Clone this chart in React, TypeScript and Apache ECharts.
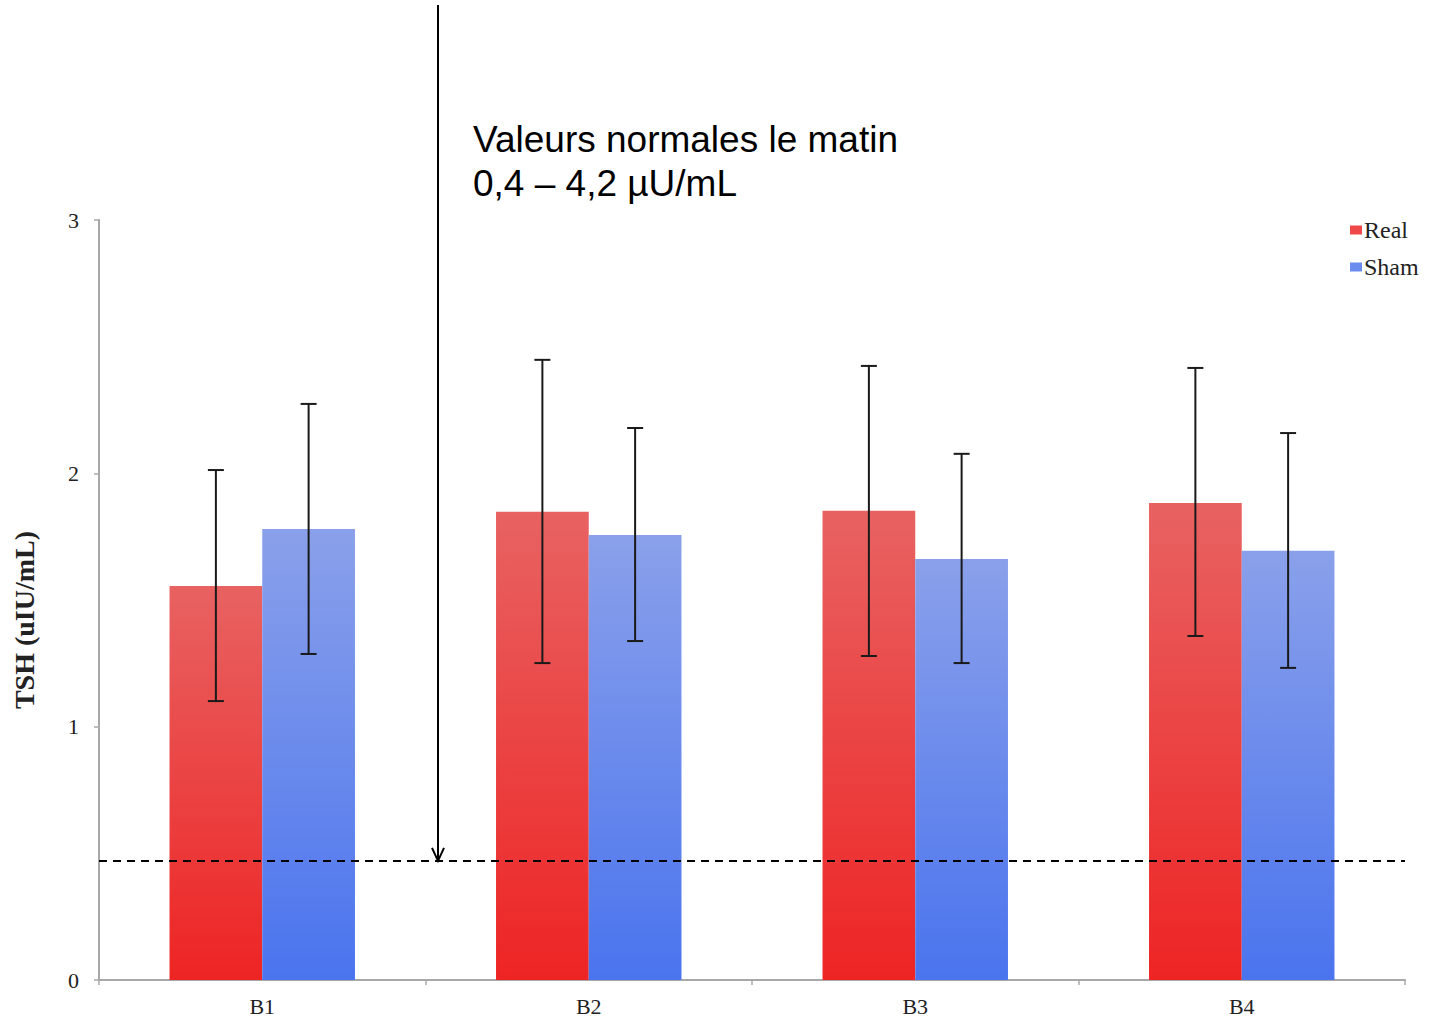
import React, { useEffect, useRef } from "react";
import * as echarts from "echarts";

const categories = ["B1", "B2", "B3", "B4"];
const realValues = [1.555, 1.848, 1.852, 1.883];
const shamValues = [1.78, 1.757, 1.662, 1.694];
const realErrHigh = [2.013, 2.448, 2.424, 2.416];
const realErrLow = [1.101, 1.251, 1.279, 1.358];
const shamErrHigh = [2.274, 2.179, 2.077, 2.159];
const shamErrLow = [1.287, 1.338, 1.251, 1.232];
const normalLevel = 0.47;
const yTicks = [0, 1, 2, 3];
const annotationLines = ["Valeurs normales le matin", "0,4 – 4,2 µU/mL"];

const SERIF = "'Liberation Serif', 'Times New Roman', serif";
const SANS = "'Liberation Sans', Arial, sans-serif";

function errRender(offsetFactor: number) {
  return (params: any, api: any) => {
    const xi = api.value(0);
    const hi = api.value(1);
    const lo = api.value(2);
    const band = api.size([1, 0])[0];
    const top = api.coord([xi, hi]);
    const bot = api.coord([xi, lo]);
    const x = top[0] + offsetFactor * band;
    const half = 8;
    const st = { stroke: "#1a1a1a", lineWidth: 2 };
    return {
      type: "group",
      children: [
        { type: "line", shape: { x1: x, y1: top[1], x2: x, y2: bot[1] }, style: st },
        { type: "line", shape: { x1: x - half, y1: top[1], x2: x + half, y2: top[1] }, style: st },
        { type: "line", shape: { x1: x - half, y1: bot[1], x2: x + half, y2: bot[1] }, style: st },
      ],
    };
  };
}

export default function App() {
  const ref = useRef<HTMLDivElement>(null);
  useEffect(() => {
    if (!ref.current) return;
    const chart = echarts.init(ref.current, null, { renderer: "svg" });
    const redGrad = new echarts.graphic.LinearGradient(0, 0, 0, 1, [
      { offset: 0, color: "#e86262" },
      { offset: 1, color: "#ee2424" },
    ]);
    const blueGrad = new echarts.graphic.LinearGradient(0, 0, 0, 1, [
      { offset: 0, color: "#8aa0ea" },
      { offset: 1, color: "#4a74ee" },
    ]);
    const option: any = {
      animation: false,
      backgroundColor: "#ffffff",
      grid: { left: 99, right: 27, top: 220, bottom: 37, containLabel: false },
      legend: {
        data: [
          { name: "Real", itemStyle: { color: "#ee4848" } },
          { name: "Sham", itemStyle: { color: "#6a8cee" } },
        ],
        orient: "vertical",
        left: 1345,
        top: 213,
        icon: "rect",
        itemWidth: 12,
        itemHeight: 9,
        itemGap: 13,
        textStyle: { fontFamily: SERIF, fontSize: 24, color: "#222", padding: [0, 0, 0, -3] },
      },
      xAxis: {
        type: "category",
        data: categories,
        axisLine: { lineStyle: { color: "#a8a8a8", width: 2 } },
        axisTick: { show: true, length: 5, lineStyle: { color: "#a8a8a8", width: 1.5 } },
        axisLabel: { fontFamily: SERIF, fontSize: 22, color: "#222", margin: 15 },
      },
      yAxis: {
        type: "value",
        min: yTicks[0],
        max: yTicks[yTicks.length - 1],
        interval: 1,
        splitLine: { show: false },
        axisLine: { show: true, lineStyle: { color: "#a8a8a8", width: 2 } },
        axisTick: { show: true, length: 5, lineStyle: { color: "#a8a8a8", width: 1.5 } },
        axisLabel: { fontFamily: SERIF, fontSize: 22, color: "#222", margin: 20 },
      },
      series: [
        {
          name: "Real",
          type: "bar",
          data: realValues,
          barWidth: "28.4%",
          barGap: "0%",
          itemStyle: { color: redGrad },
          markLine: {
            silent: true,
            symbol: "none",
            label: { show: false },
            lineStyle: { color: "#000", width: 2, type: [8, 6] },
            data: [{ yAxis: normalLevel }],
            z: 10,
          },
        },
        {
          name: "Sham",
          type: "bar",
          data: shamValues,
          barWidth: "28.4%",
          barGap: "0%",
          itemStyle: { color: blueGrad },
        },
        {
          name: "RealErr",
          type: "custom",
          data: categories.map((_, i) => [i, realErrHigh[i], realErrLow[i]]),
          renderItem: errRender(-0.142),
          z: 5,
          silent: true,
        },
        {
          name: "ShamErr",
          type: "custom",
          data: categories.map((_, i) => [i, shamErrHigh[i], shamErrLow[i]]),
          renderItem: errRender(0.142),
          z: 5,
          silent: true,
        },
      ],
    };
    chart.setOption(option);
    const yDash = chart.convertToPixel({ yAxisIndex: 0 }, normalLevel) as number;
    const ax = 438;
    chart.setOption({
      graphic: [
        {
          type: "line",
          shape: { x1: ax, y1: 5, x2: ax, y2: yDash },
          style: { stroke: "#000", lineWidth: 2 },
          z: 20,
        },
        {
          type: "polyline",
          shape: { points: [[ax - 6, yDash - 13], [ax, yDash], [ax + 6, yDash - 13]] },
          style: { stroke: "#000", lineWidth: 2, fill: null },
          z: 20,
        },
        {
          type: "text",
          left: 473,
          top: 117,
          style: {
            text: annotationLines.join("\n"),
            font: `37px ${SANS}`,
            fill: "#000",
            lineHeight: 44,
          },
          z: 20,
        },
        {
          type: "text",
          x: 24,
          y: 620,
          rotation: Math.PI / 2,
          style: {
            text: "TSH (uIU/mL)",
            font: `bold 28px ${SERIF}`,
            fill: "#222",
            textAlign: "center",
            textVerticalAlign: "middle",
          },
        },
      ],
    });
    return () => chart.dispose();
  }, []);
  return (
    <div
      ref={ref}
      style={{ position: "fixed", left: 0, top: 0, width: 1432, height: 1017 }}
    />
  );
}
